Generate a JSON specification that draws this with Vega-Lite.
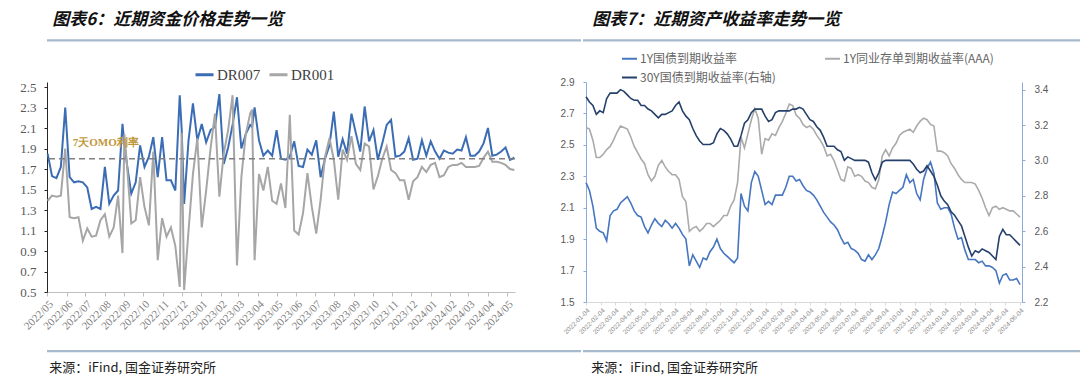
{
"$schema": "https://vega.github.io/schema/vega-lite/v6.json",
"padding": {"left": 14, "top": 11, "right": 0, "bottom": 0},
"background": "white",
"config": {"view": {"stroke": null}, "axis": {"grid": false, "title": null, "labelOverlap": false}},
"resolve": {"scale": {"color": "independent"}, "legend": {"color": "independent"}},
"datasets": {
"left": [
{"d":"2022-05-02","a":1.85,"b":1.39},{"d":"2022-05-09","a":1.63,"b":1.44},{"d":"2022-05-16","a":1.61,"b":1.43},{"d":"2022-05-23","a":1.72,"b":1.44},{"d":"2022-05-30","a":2.30,"b":1.90},
{"d":"2022-06-06","a":1.62,"b":1.23},{"d":"2022-06-13","a":1.57,"b":1.22},{"d":"2022-06-20","a":1.58,"b":1.23},{"d":"2022-06-27","a":1.57,"b":1.00},
{"d":"2022-07-04","a":1.52,"b":1.12},{"d":"2022-07-11","a":1.31,"b":1.04},{"d":"2022-07-18","a":1.33,"b":1.05},{"d":"2022-07-25","a":1.31,"b":1.20},
{"d":"2022-08-01","a":1.72,"b":1.26},{"d":"2022-08-08","a":1.36,"b":1.04},{"d":"2022-08-15","a":1.44,"b":1.13},{"d":"2022-08-22","a":1.49,"b":1.44},{"d":"2022-08-29","a":2.14,"b":0.88},
{"d":"2022-09-01","a":1.95,"b":2.04},{"d":"2022-09-05","a":1.75,"b":1.75},{"d":"2022-09-12","a":1.46,"b":1.17},{"d":"2022-09-19","a":1.57,"b":1.20},{"d":"2022-09-26","a":1.93,"b":1.62},
{"d":"2022-10-03","a":1.72,"b":1.33},{"d":"2022-10-10","a":1.82,"b":1.15},{"d":"2022-10-17","a":2.01,"b":1.87},{"d":"2022-10-24","a":1.62,"b":0.81},{"d":"2022-10-31","a":2.01,"b":1.22},
{"d":"2022-11-07","a":1.59,"b":1.04},{"d":"2022-11-14","a":1.59,"b":1.13},{"d":"2022-11-21","a":1.49,"b":0.95},{"d":"2022-11-28","a":2.42,"b":0.55},
{"d":"2022-12-01","a":2.10,"b":2.05},{"d":"2022-12-05","a":1.36,"b":0.52},{"d":"2022-12-12","a":1.98,"b":1.10},{"d":"2022-12-19","a":2.34,"b":1.65},{"d":"2022-12-26","a":1.98,"b":2.00},
{"d":"2023-01-02","a":2.14,"b":1.13},{"d":"2023-01-09","a":1.96,"b":1.49},{"d":"2023-01-16","a":2.08,"b":1.90},{"d":"2023-01-23","a":2.11,"b":2.24},{"d":"2023-01-30","a":2.43,"b":1.43},
{"d":"2023-02-06","a":1.75,"b":1.85},{"d":"2023-02-13","a":1.91,"b":2.08},{"d":"2023-02-20","a":2.13,"b":2.42},{"d":"2023-02-27","a":2.40,"b":0.76},
{"d":"2023-03-06","a":1.90,"b":1.62},{"d":"2023-03-13","a":2.04,"b":2.04},{"d":"2023-03-20","a":2.13,"b":2.24},{"d":"2023-03-23","a":2.11,"b":2.28},{"d":"2023-03-27","a":2.30,"b":0.81},
{"d":"2023-04-03","a":1.98,"b":1.65},{"d":"2023-04-10","a":1.83,"b":1.49},{"d":"2023-04-17","a":1.88,"b":1.72},{"d":"2023-04-24","a":1.83,"b":1.39},
{"d":"2023-05-01","a":2.08,"b":1.36},{"d":"2023-05-08","a":1.80,"b":1.56},{"d":"2023-05-15","a":1.79,"b":1.32},{"d":"2023-05-22","a":1.82,"b":2.23},{"d":"2023-05-29","a":1.97,"b":1.10},
{"d":"2023-06-05","a":1.73,"b":1.06},{"d":"2023-06-12","a":1.72,"b":1.27},{"d":"2023-06-19","a":1.89,"b":1.66},{"d":"2023-06-26","a":1.84,"b":1.33},
{"d":"2023-07-03","a":1.98,"b":1.07},{"d":"2023-07-10","a":1.62,"b":1.40},{"d":"2023-07-17","a":1.80,"b":1.82},{"d":"2023-07-24","a":1.93,"b":2.00},{"d":"2023-07-31","a":2.26,"b":1.79},
{"d":"2023-08-07","a":1.82,"b":1.40},{"d":"2023-08-14","a":1.99,"b":1.89},{"d":"2023-08-21","a":1.85,"b":1.79},{"d":"2023-08-28","a":2.24,"b":2.02},
{"d":"2023-09-04","a":2.05,"b":1.75},{"d":"2023-09-11","a":1.87,"b":1.69},{"d":"2023-09-18","a":2.31,"b":1.95},{"d":"2023-09-25","a":1.97,"b":1.92},
{"d":"2023-10-02","a":2.08,"b":1.50},{"d":"2023-10-09","a":1.79,"b":1.63},{"d":"2023-10-16","a":1.95,"b":1.80},{"d":"2023-10-23","a":2.13,"b":1.92},{"d":"2023-10-30","a":2.18,"b":1.69},
{"d":"2023-11-06","a":1.82,"b":1.66},{"d":"2023-11-13","a":1.83,"b":1.59},{"d":"2023-11-20","a":1.87,"b":1.59},{"d":"2023-11-27","a":2.00,"b":1.40},
{"d":"2023-12-04","a":1.79,"b":1.58},{"d":"2023-12-11","a":1.80,"b":1.62},{"d":"2023-12-18","a":1.98,"b":1.72},{"d":"2023-12-25","a":1.83,"b":1.67},
{"d":"2024-01-01","a":1.97,"b":1.74},{"d":"2024-01-08","a":1.87,"b":1.76},{"d":"2024-01-15","a":1.80,"b":1.62},{"d":"2024-01-22","a":1.88,"b":1.64},{"d":"2024-01-29","a":1.86,"b":1.72},
{"d":"2024-02-05","a":1.85,"b":1.74},{"d":"2024-02-12","a":1.89,"b":1.74},{"d":"2024-02-19","a":1.88,"b":1.76},{"d":"2024-02-26","a":2.01,"b":1.72},
{"d":"2024-03-04","a":1.83,"b":1.72},{"d":"2024-03-11","a":1.83,"b":1.72},{"d":"2024-03-18","a":1.87,"b":1.73},{"d":"2024-03-25","a":1.95,"b":1.81},
{"d":"2024-04-01","a":2.10,"b":1.87},{"d":"2024-04-08","a":1.83,"b":1.77},{"d":"2024-04-15","a":1.84,"b":1.77},{"d":"2024-04-22","a":1.87,"b":1.76},{"d":"2024-04-29","a":1.91,"b":1.74},
{"d":"2024-05-06","a":1.79,"b":1.70},{"d":"2024-05-13","a":1.81,"b":1.69}
],
"right": [
{"d":"2022-01-04","g1":2.26,"n1":2.61,"g30":3.36},{"d":"2022-01-11","g1":2.21,"n1":2.60,"g30":3.33},{"d":"2022-01-18","g1":2.11,"n1":2.53,"g30":3.31},{"d":"2022-01-25","g1":1.97,"n1":2.42,"g30":3.26},
{"d":"2022-02-01","g1":1.95,"n1":2.42,"g30":3.28},{"d":"2022-02-08","g1":1.94,"n1":2.44,"g30":3.27},{"d":"2022-02-15","g1":1.89,"n1":2.47,"g30":3.35},{"d":"2022-02-22","g1":2.05,"n1":2.49,"g30":3.38},
{"d":"2022-03-01","g1":2.08,"n1":2.53,"g30":3.38},{"d":"2022-03-08","g1":2.09,"n1":2.58,"g30":3.38},{"d":"2022-03-15","g1":2.13,"n1":2.62,"g30":3.40},{"d":"2022-03-22","g1":2.15,"n1":2.61,"g30":3.39},{"d":"2022-03-29","g1":2.17,"n1":2.60,"g30":3.37},
{"d":"2022-04-05","g1":2.13,"n1":2.55,"g30":3.35},{"d":"2022-04-12","g1":2.08,"n1":2.49,"g30":3.34},{"d":"2022-04-19","g1":2.05,"n1":2.45,"g30":3.34},{"d":"2022-04-26","g1":2.04,"n1":2.41,"g30":3.31},
{"d":"2022-05-03","g1":1.98,"n1":2.38,"g30":3.31},{"d":"2022-05-10","g1":1.94,"n1":2.31,"g30":3.29},{"d":"2022-05-17","g1":1.99,"n1":2.27,"g30":3.28},{"d":"2022-05-24","g1":2.03,"n1":2.30,"g30":3.26},{"d":"2022-05-31","g1":2.00,"n1":2.37,"g30":3.24},
{"d":"2022-06-07","g1":1.98,"n1":2.40,"g30":3.26},{"d":"2022-06-14","g1":2.02,"n1":2.36,"g30":3.26},{"d":"2022-06-21","g1":2.00,"n1":2.33,"g30":3.27},{"d":"2022-06-28","g1":1.97,"n1":2.31,"g30":3.28},
{"d":"2022-07-05","g1":2.00,"n1":2.31,"g30":3.31},{"d":"2022-07-12","g1":1.97,"n1":2.28,"g30":3.33},{"d":"2022-07-19","g1":1.93,"n1":2.17,"g30":3.28},{"d":"2022-07-26","g1":1.90,"n1":2.14,"g30":3.25},
{"d":"2022-08-02","g1":1.73,"n1":1.95,"g30":3.23},{"d":"2022-08-09","g1":1.80,"n1":1.97,"g30":3.18},{"d":"2022-08-16","g1":1.76,"n1":1.98,"g30":3.14},{"d":"2022-08-23","g1":1.72,"n1":1.95,"g30":3.11},{"d":"2022-08-30","g1":1.78,"n1":1.97,"g30":3.09},
{"d":"2022-09-06","g1":1.77,"n1":2.00,"g30":3.09},{"d":"2022-09-13","g1":1.82,"n1":2.00,"g30":3.09},{"d":"2022-09-20","g1":1.85,"n1":1.98,"g30":3.10},{"d":"2022-09-27","g1":1.90,"n1":2.00,"g30":3.15},
{"d":"2022-10-04","g1":1.84,"n1":2.02,"g30":3.18},{"d":"2022-10-11","g1":1.81,"n1":2.05,"g30":3.17},{"d":"2022-10-18","g1":1.79,"n1":2.05,"g30":3.15},{"d":"2022-10-25","g1":1.77,"n1":2.11,"g30":3.12},
{"d":"2022-11-01","g1":1.75,"n1":2.15,"g30":3.08},{"d":"2022-11-08","g1":1.78,"n1":2.26,"g30":3.08},{"d":"2022-11-15","g1":2.19,"n1":2.55,"g30":3.14},{"d":"2022-11-22","g1":2.11,"n1":2.48,"g30":3.21},{"d":"2022-11-29","g1":2.08,"n1":2.57,"g30":3.23},
{"d":"2022-12-06","g1":2.26,"n1":2.66,"g30":3.27},{"d":"2022-12-13","g1":2.33,"n1":2.73,"g30":3.29},{"d":"2022-12-20","g1":2.30,"n1":2.67,"g30":3.29},{"d":"2022-12-27","g1":2.21,"n1":2.44,"g30":3.29},
{"d":"2023-01-03","g1":2.12,"n1":2.54,"g30":3.25},{"d":"2023-01-10","g1":2.14,"n1":2.53,"g30":3.22},{"d":"2023-01-17","g1":2.12,"n1":2.57,"g30":3.23},{"d":"2023-01-24","g1":2.18,"n1":2.56,"g30":3.27},{"d":"2023-01-31","g1":2.18,"n1":2.61,"g30":3.28},
{"d":"2023-02-07","g1":2.18,"n1":2.65,"g30":3.28},{"d":"2023-02-14","g1":2.23,"n1":2.70,"g30":3.28},{"d":"2023-02-21","g1":2.30,"n1":2.76,"g30":3.28},{"d":"2023-02-28","g1":2.30,"n1":2.75,"g30":3.29},
{"d":"2023-03-07","g1":2.27,"n1":2.69,"g30":3.29},{"d":"2023-03-14","g1":2.28,"n1":2.67,"g30":3.30},{"d":"2023-03-21","g1":2.24,"n1":2.63,"g30":3.29},{"d":"2023-03-28","g1":2.21,"n1":2.61,"g30":3.26},
{"d":"2023-04-04","g1":2.20,"n1":2.62,"g30":3.23},{"d":"2023-04-11","g1":2.18,"n1":2.60,"g30":3.22},{"d":"2023-04-18","g1":2.15,"n1":2.56,"g30":3.19},{"d":"2023-04-25","g1":2.11,"n1":2.53,"g30":3.17},
{"d":"2023-05-02","g1":2.07,"n1":2.49,"g30":3.13},{"d":"2023-05-09","g1":2.04,"n1":2.43,"g30":3.08},{"d":"2023-05-16","g1":2.01,"n1":2.44,"g30":3.08},{"d":"2023-05-23","g1":1.99,"n1":2.40,"g30":3.08},{"d":"2023-05-30","g1":1.96,"n1":2.34,"g30":3.06},
{"d":"2023-06-06","g1":1.91,"n1":2.28,"g30":3.05},{"d":"2023-06-13","g1":1.87,"n1":2.27,"g30":3.00},{"d":"2023-06-20","g1":1.88,"n1":2.36,"g30":3.02},{"d":"2023-06-27","g1":1.84,"n1":2.35,"g30":3.01},
{"d":"2023-07-04","g1":1.83,"n1":2.30,"g30":3.00},{"d":"2023-07-11","g1":1.81,"n1":2.31,"g30":3.00},{"d":"2023-07-18","g1":1.77,"n1":2.30,"g30":3.00},{"d":"2023-07-25","g1":1.76,"n1":2.27,"g30":3.00},
{"d":"2023-08-01","g1":1.80,"n1":2.26,"g30":2.99},{"d":"2023-08-08","g1":1.77,"n1":2.23,"g30":2.93},{"d":"2023-08-15","g1":1.80,"n1":2.22,"g30":2.89},{"d":"2023-08-22","g1":1.84,"n1":2.28,"g30":2.93},{"d":"2023-08-29","g1":1.92,"n1":2.43,"g30":2.99},
{"d":"2023-09-05","g1":2.01,"n1":2.47,"g30":3.00},{"d":"2023-09-12","g1":2.12,"n1":2.43,"g30":3.00},{"d":"2023-09-19","g1":2.20,"n1":2.48,"g30":3.00},{"d":"2023-09-26","g1":2.19,"n1":2.51,"g30":3.00},
{"d":"2023-10-03","g1":2.21,"n1":2.56,"g30":3.00},{"d":"2023-10-10","g1":2.23,"n1":2.58,"g30":3.00},{"d":"2023-10-17","g1":2.31,"n1":2.59,"g30":3.00},{"d":"2023-10-24","g1":2.26,"n1":2.60,"g30":3.00},{"d":"2023-10-31","g1":2.28,"n1":2.58,"g30":2.98},
{"d":"2023-11-07","g1":2.19,"n1":2.62,"g30":2.95},{"d":"2023-11-14","g1":2.15,"n1":2.65,"g30":2.93},{"d":"2023-11-21","g1":2.28,"n1":2.67,"g30":2.94},{"d":"2023-11-28","g1":2.35,"n1":2.66,"g30":2.97},
{"d":"2023-12-05","g1":2.39,"n1":2.63,"g30":2.94},{"d":"2023-12-12","g1":2.32,"n1":2.62,"g30":2.91},{"d":"2023-12-19","g1":2.13,"n1":2.46,"g30":2.86},{"d":"2023-12-26","g1":2.09,"n1":2.46,"g30":2.80},
{"d":"2024-01-02","g1":2.10,"n1":2.45,"g30":2.77},{"d":"2024-01-09","g1":2.10,"n1":2.43,"g30":2.75},{"d":"2024-01-16","g1":2.06,"n1":2.38,"g30":2.71},{"d":"2024-01-23","g1":1.97,"n1":2.35,"g30":2.69},{"d":"2024-01-30","g1":1.90,"n1":2.31,"g30":2.66},
{"d":"2024-02-06","g1":1.91,"n1":2.28,"g30":2.63},{"d":"2024-02-13","g1":1.83,"n1":2.26,"g30":2.57},{"d":"2024-02-20","g1":1.77,"n1":2.26,"g30":2.51},{"d":"2024-02-27","g1":1.77,"n1":2.26,"g30":2.46},
{"d":"2024-03-05","g1":1.77,"n1":2.25,"g30":2.49},{"d":"2024-03-12","g1":1.75,"n1":2.21,"g30":2.48},{"d":"2024-03-19","g1":1.76,"n1":2.16,"g30":2.50},{"d":"2024-03-26","g1":1.73,"n1":2.10,"g30":2.49},
{"d":"2024-04-02","g1":1.73,"n1":2.05,"g30":2.48},{"d":"2024-04-09","g1":1.72,"n1":2.10,"g30":2.46},{"d":"2024-04-16","g1":1.70,"n1":2.11,"g30":2.44},{"d":"2024-04-23","g1":1.62,"n1":2.09,"g30":2.57},{"d":"2024-04-30","g1":1.67,"n1":2.10,"g30":2.61},
{"d":"2024-05-07","g1":1.68,"n1":2.09,"g30":2.58},{"d":"2024-05-14","g1":1.64,"n1":2.08,"g30":2.58},{"d":"2024-05-21","g1":1.64,"n1":2.08,"g30":2.56},{"d":"2024-05-28","g1":1.65,"n1":2.06,"g30":2.54},
{"d":"2024-06-04","g1":1.61,"n1":2.04,"g30":2.52}
]
},
"spacing": 8,
"vconcat": [
{
"hconcat": [
{"width": 534, "height": 1.5, "view": {"fill": "#a8bacd", "stroke": null}, "data": {"values": [{}]},
 "mark": {"type": "rule", "color": "#a8bacd", "strokeWidth": 1.5},
 "encoding": {"y": {"datum": 1, "type": "quantitative", "axis": null, "scale": {"domain": [0, 1]}}},
 "title": {"text": "图表6：近期资金价格走势一览", "anchor": "start", "orient": "top", "font": "Noto Sans CJK SC", "fontSize": 17, "fontWeight": "bold", "fontStyle": "italic", "color": "#111111", "offset": 10, "dx": 6}},
{"width": 518, "height": 1.5, "view": {"fill": "#a8bacd", "stroke": null}, "data": {"values": [{}]},
 "mark": {"type": "rule", "color": "#a8bacd", "strokeWidth": 1.5},
 "encoding": {"y": {"datum": 1, "type": "quantitative", "axis": null, "scale": {"domain": [0, 1]}}},
 "title": {"text": "图表7：近期资产收益率走势一览", "anchor": "start", "orient": "top", "font": "Noto Sans CJK SC", "fontSize": 17, "fontWeight": "bold", "fontStyle": "italic", "color": "#111111", "offset": 10, "dx": 10}}
],
"spacing": 0
},
{
"hconcat": [
{"width": 468, "height": 210, "data": {"name": "left"},
 "layer": [
  {"mark": {"type": "line", "strokeWidth": 2},
   "encoding": {
    "x": {"field": "d", "type": "temporal",
      "scale": {"type": "utc", "domain": [{"year": 2022, "month": 5, "date": 1, "utc": true}, {"year": 2024, "month": 5, "date": 14, "utc": true}]},
      "axis": {"format": "%Y/%m", "tickCount": {"interval": "month", "step": 1}, "labelAngle": -45, "labelFont": "Liberation Serif", "labelFontSize": 11, "labelColor": "#7f7f7f", "domainColor": "#bfbfbf", "tickColor": "#bfbfbf", "tickSize": 4, "labelPadding": 2, "labelOverlap": false, "labelFlush": false, "minExtent": 40, "maxExtent": 40}},
    "y": {"field": "a", "type": "quantitative",
      "scale": {"domain": [0.5, 2.5488], "nice": false, "zero": false},
      "axis": {"values": [0.5, 0.7, 0.9, 1.1, 1.3, 1.5, 1.7, 1.9, 2.1, 2.3, 2.5], "format": ".1f", "labelOverlap": false, "labelFont": "Liberation Serif", "labelFontSize": 13, "labelColor": "#595959", "domainColor": "#262626", "tickColor": "#262626", "tickSize": 3, "labelPadding": 8, "minExtent": 33, "maxExtent": 33}},
    "color": {"datum": "DR007", "type": "nominal",
      "scale": {"domain": ["DR007", "DR001"], "range": ["#3b6db4", "#a6a6a6"]},
      "legend": {"orient": "none", "legendX": 147, "legendY": -18, "direction": "horizontal", "title": null, "symbolType": "stroke", "symbolSize": 324, "symbolStrokeWidth": 3, "labelFont": "Liberation Serif", "labelFontSize": 15, "labelColor": "#404040", "columnPadding": 2, "labelOffset": 2}}
   }},
  {"mark": {"type": "line", "strokeWidth": 2},
   "encoding": {
    "x": {"field": "d", "type": "temporal"},
    "y": {"field": "b", "type": "quantitative",
      "axis": {"values": [0.5, 0.7, 0.9, 1.1, 1.3, 1.5, 1.7, 1.9, 2.1, 2.3, 2.5], "format": ".1f", "labelOverlap": false, "labelFont": "Liberation Serif", "labelFontSize": 13, "labelColor": "#595959", "domainColor": "#262626", "tickColor": "#262626", "tickSize": 3, "labelPadding": 8, "minExtent": 33, "maxExtent": 33}},
    "color": {"datum": "DR001", "type": "nominal"}
   }},
  {"data": {"values": [{}]},
   "mark": {"type": "rule", "color": "#808080", "strokeWidth": 1.5, "strokeDash": [6, 4]},
   "encoding": {"y": {"datum": 1.8, "type": "quantitative",
      "axis": {"values": [0.5, 0.7, 0.9, 1.1, 1.3, 1.5, 1.7, 1.9, 2.1, 2.3, 2.5], "format": ".1f", "labelOverlap": false, "labelFont": "Liberation Serif", "labelFontSize": 13, "labelColor": "#595959", "domainColor": "#262626", "tickColor": "#262626", "tickSize": 3, "labelPadding": 8, "minExtent": 33, "maxExtent": 33}}}},
  {"data": {"values": [{}]},
   "mark": {"type": "text", "text": "7天OMO利率", "align": "left", "baseline": "middle", "font": "Liberation Serif", "fontSize": 11, "fontWeight": "bold", "color": "#c0983c"},
   "encoding": {"x": {"datum": {"year": 2022, "month": 6, "date": 11, "utc": true}, "type": "temporal"}, "y": {"datum": 1.955, "type": "quantitative",
      "axis": {"values": [0.5, 0.7, 0.9, 1.1, 1.3, 1.5, 1.7, 1.9, 2.1, 2.3, 2.5], "format": ".1f", "labelOverlap": false, "labelFont": "Liberation Serif", "labelFontSize": 13, "labelColor": "#595959", "domainColor": "#262626", "tickColor": "#262626", "tickSize": 3, "labelPadding": 8, "minExtent": 33, "maxExtent": 33}}}}
 ]},
{"width": 436, "height": 220, "data": {"name": "right"},
 "encoding": {
  "x": {"field": "d", "type": "temporal",
    "scale": {"type": "utc", "domain": [{"year": 2022, "month": 1, "date": 4, "utc": true}, {"year": 2024, "month": 6, "date": 8, "utc": true}]},
    "axis": {"format": "%Y-%m-%d", "values": [
      {"year":2022,"month":1,"date":4,"utc":true},{"year":2022,"month":2,"date":4,"utc":true},{"year":2022,"month":3,"date":4,"utc":true},{"year":2022,"month":4,"date":4,"utc":true},{"year":2022,"month":5,"date":4,"utc":true},{"year":2022,"month":6,"date":4,"utc":true},{"year":2022,"month":7,"date":4,"utc":true},{"year":2022,"month":8,"date":4,"utc":true},{"year":2022,"month":9,"date":4,"utc":true},{"year":2022,"month":10,"date":4,"utc":true},{"year":2022,"month":11,"date":4,"utc":true},{"year":2022,"month":12,"date":4,"utc":true},
      {"year":2023,"month":1,"date":4,"utc":true},{"year":2023,"month":2,"date":4,"utc":true},{"year":2023,"month":3,"date":4,"utc":true},{"year":2023,"month":4,"date":4,"utc":true},{"year":2023,"month":5,"date":4,"utc":true},{"year":2023,"month":6,"date":4,"utc":true},{"year":2023,"month":7,"date":4,"utc":true},{"year":2023,"month":8,"date":4,"utc":true},{"year":2023,"month":9,"date":4,"utc":true},{"year":2023,"month":10,"date":4,"utc":true},{"year":2023,"month":11,"date":4,"utc":true},{"year":2023,"month":12,"date":4,"utc":true},
      {"year":2024,"month":1,"date":4,"utc":true},{"year":2024,"month":2,"date":4,"utc":true},{"year":2024,"month":3,"date":4,"utc":true},{"year":2024,"month":4,"date":4,"utc":true},{"year":2024,"month":5,"date":4,"utc":true},{"year":2024,"month":6,"date":4,"utc":true}],
      "labelAngle": -45, "labelFont": "Liberation Sans", "labelFontSize": 6.5, "labelColor": "#8c8c8c", "domainColor": "#d9d9d9", "tickColor": "#d9d9d9", "tickSize": 3, "labelPadding": 2, "labelOverlap": false, "labelFlush": false, "labelBound": false, "minExtent": 40, "maxExtent": 40}}
 },
 "layer": [
  {"layer": [
    {"mark": {"type": "line", "strokeWidth": 1.6},
     "encoding": {
      "y": {"field": "g1", "type": "quantitative",
        "scale": {"domain": [1.5, 2.9], "nice": false, "zero": false},
        "axis": {"values": [1.5, 1.7, 1.9, 2.1, 2.3, 2.5, 2.7, 2.9], "format": ".1f", "labelOverlap": false, "labelFont": "Liberation Sans", "labelFontSize": 10, "labelColor": "#595959", "domainColor": "#8eaadb", "tickColor": "#8eaadb", "tickSize": 3, "labelPadding": 9, "minExtent": 34, "maxExtent": 34}},
      "color": {"datum": "1Y国债到期收益率", "type": "nominal",
        "scale": {"domain": ["1Y国债到期收益率", "1Y同业存单到期收益率(AAA)", "30Y国债到期收益率(右轴)"], "range": ["#4676c0", "#ababab", "#25416b"]},
        "legend": {"orient": "none", "legendX": 35, "legendY": -32, "columns": 2, "direction": "horizontal", "title": null, "symbolType": "stroke", "symbolSize": 225, "symbolStrokeWidth": 2, "labelFont": "Noto Sans CJK SC", "labelFontSize": 12, "labelColor": "#666666", "columnPadding": 45, "rowPadding": 4, "labelOffset": 2, "labelLimit": 400}}
     }},
    {"mark": {"type": "line", "strokeWidth": 1.6},
     "encoding": {
      "y": {"field": "n1", "type": "quantitative",
        "axis": {"values": [1.5, 1.7, 1.9, 2.1, 2.3, 2.5, 2.7, 2.9], "format": ".1f", "labelOverlap": false, "labelFont": "Liberation Sans", "labelFontSize": 10, "labelColor": "#595959", "domainColor": "#8eaadb", "tickColor": "#8eaadb", "tickSize": 3, "labelPadding": 9, "minExtent": 34, "maxExtent": 34}},
      "color": {"datum": "1Y同业存单到期收益率(AAA)", "type": "nominal"}
     }}
  ]},
  {"mark": {"type": "line", "strokeWidth": 1.6},
   "encoding": {
    "y": {"field": "g30", "type": "quantitative",
      "scale": {"domain": [2.2, 3.443], "nice": false, "zero": false},
      "axis": {"orient": "right", "values": [2.2, 2.4, 2.6, 2.8, 3.0, 3.2, 3.4], "format": ".1f", "labelOverlap": false, "labelFont": "Liberation Sans", "labelFontSize": 10, "labelColor": "#595959", "domainColor": "#8eaadb", "tickColor": "#8eaadb", "tickSize": 3, "labelPadding": 9}},
    "color": {"datum": "30Y国债到期收益率(右轴)", "type": "nominal"}
   }}
 ],
 "resolve": {"scale": {"y": "independent"}}}
],
"spacing": 33,
"resolve": {"scale": {"color": "independent"}, "legend": {"color": "independent"}}
},
{
"hconcat": [
{"width": 534, "height": 1.5, "view": {"fill": "#a8bacd", "stroke": null}, "data": {"values": [{}]},
 "mark": {"type": "rule", "color": "#a8bacd", "strokeWidth": 1.5},
 "encoding": {"y": {"datum": 0, "type": "quantitative", "axis": null, "scale": {"domain": [0, 1]}}},
 "title": {"text": "来源：iFind, 国金证券研究所", "anchor": "start", "orient": "bottom", "font": "Noto Sans CJK SC", "fontSize": 13, "fontWeight": "normal", "color": "#222222", "offset": 10, "dx": 3}},
{"width": 518, "height": 1.5, "view": {"fill": "#a8bacd", "stroke": null}, "data": {"values": [{}]},
 "mark": {"type": "rule", "color": "#a8bacd", "strokeWidth": 1.5},
 "encoding": {"y": {"datum": 0, "type": "quantitative", "axis": null, "scale": {"domain": [0, 1]}}},
 "title": {"text": "来源：iFind, 国金证券研究所", "anchor": "start", "orient": "bottom", "font": "Noto Sans CJK SC", "fontSize": 13, "fontWeight": "normal", "color": "#222222", "offset": 10, "dx": 9}}
],
"spacing": 0
}
]
}
